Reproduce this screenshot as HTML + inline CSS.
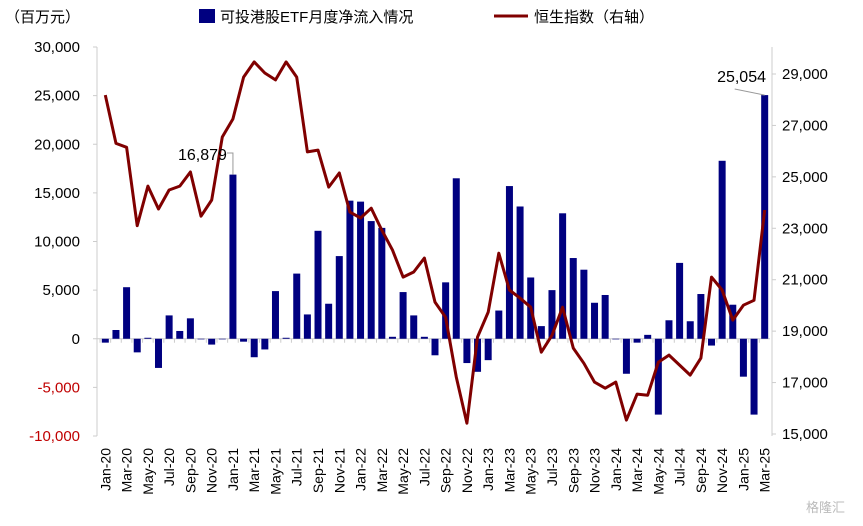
<!DOCTYPE html>
<html><head><meta charset="utf-8"><style>
body{margin:0;background:#fff;}
svg text{font-family:"Liberation Sans","Noto Sans CJK SC",sans-serif;}
</style></head><body>
<svg id="c" width="863" height="521" xmlns="http://www.w3.org/2000/svg"></svg>
<script>
const months=["Jan-20","Feb-20","Mar-20","Apr-20","May-20","Jun-20","Jul-20","Aug-20","Sep-20","Oct-20","Nov-20","Dec-20","Jan-21","Feb-21","Mar-21","Apr-21","May-21","Jun-21","Jul-21","Aug-21","Sep-21","Oct-21","Nov-21","Dec-21","Jan-22","Feb-22","Mar-22","Apr-22","May-22","Jun-22","Jul-22","Aug-22","Sep-22","Oct-22","Nov-22","Dec-22","Jan-23","Feb-23","Mar-23","Apr-23","May-23","Jun-23","Jul-23","Aug-23","Sep-23","Oct-23","Nov-23","Dec-23","Jan-24","Feb-24","Mar-24","Apr-24","May-24","Jun-24","Jul-24","Aug-24","Sep-24","Oct-24","Nov-24","Dec-24","Jan-25","Feb-25","Mar-25"];
const flows=[-400,900,5300,-1400,100,-3000,2400,800,2100,0,-600,0,16879,-300,-1900,-1100,4900,100,6700,2500,11100,3600,8500,14200,14100,12100,11400,200,4800,2400,200,-1700,5800,16500,-2500,-3400,-2200,2900,15700,13600,6300,1300,5000,12900,8300,7100,3700,4500,0,-3600,-400,400,-7800,1900,7800,1800,4600,-700,18300,3500,-3900,-7800,25054];
const hsi=[28180,26300,26150,23100,24640,23750,24490,24640,25190,23470,24100,26550,27250,28880,29470,29040,28770,29470,28880,25970,26040,24600,25150,23630,23400,23780,22930,22150,21100,21300,21840,20130,19540,17210,15420,18770,19740,22030,20600,20280,19930,18180,18840,19930,18340,17750,17020,16780,17020,15540,16550,16510,17790,18070,17680,17290,17950,21100,20600,19430,20010,20200,23710];
const leftTicks=[-10000,-5000,0,5000,10000,15000,20000,25000,30000];
const rightTicks=[15000,17000,19000,21000,23000,25000,27000,29000];
const X0=100,X1=770,YT=47,YB=436;
const band=(X1-X0)/months.length;
const xc=i=>X0+band*(i+0.5);
const yL=v=>YB-(v+10000)/40000*(YB-YT);
const yR=v=>434-(v-15000)/14000*(434-74);
const svg=document.getElementById('c');
const NS="http://www.w3.org/2000/svg";
function mk(t,a,txt){const e=document.createElementNS(NS,t);for(const k in a)e.setAttribute(k,a[k]);if(txt!==undefined)e.textContent=txt;svg.appendChild(e);return e;}
// axes
let e=mk('line',{x1:X0-3,y1:YT,x2:X0-3,y2:YB,stroke:'#ccc'});


e=mk('line',{x1:X1+2,y1:YT,x2:X1+2,y2:YB,stroke:'#ccc'});


e=mk('line',{x1:X0-3,y1:yL(0),x2:X1,y2:yL(0),stroke:'#ccc'});


leftTicks.forEach(v=>{
 const l=mk('line',{x1:X0-7,y1:yL(v),x2:X0-3,y2:yL(v),stroke:'#ccc'});
 
 
 const t=mk('text',{x:80,y:yL(v)+5,'text-anchor':'end','font-size':15,fill:v<0?'#c00000':'#000'},v.toLocaleString('en-US'));
 
 
});
rightTicks.forEach(v=>{
 const l=mk('line',{x1:X1+2,y1:yR(v),x2:X1+6,y2:yR(v),stroke:'#ccc'});
 
 
 const t=mk('text',{x:782,y:yR(v)+5,'font-size':15,fill:'#000'},v.toLocaleString('en-US'));
 
 
});
months.forEach((m,i)=>{
 const l=mk('line',{x1:X0+band*i,y1:yL(0),x2:X0+band*i,y2:yL(0)+4,stroke:'#ccc'});
 
 
 if(i%2===0){
  const x=xc(i)+5,y=448;
  const t=mk('text',{x:x,y:y,'text-anchor':'end','font-size':14,transform:`rotate(-90 ${x} ${y})`},m);
  
  
 }
});
flows.forEach((v,i)=>{
 const y0=yL(0),y1=yL(v);
 const r=mk('rect',{x:xc(i)-3.5,y:Math.min(y0,y1),width:7,height:Math.max(Math.abs(y1-y0),0.6),fill:'#000080'});
 
 
});
const pts=hsi.map((v,i)=>xc(i).toFixed(1)+','+yR(v).toFixed(1)).join(' ');
e=mk('polyline',{points:pts,fill:'none',stroke:'#800000','stroke-width':3,'stroke-linejoin':'round'});


// data labels
const i1=12,i2=62;
e=mk('polyline',{points:`${xc(i1)-6},153 ${xc(i1)},153 ${xc(i1)},${yL(flows[i1])}`,fill:'none',stroke:'#999'});


e=mk('text',{x:xc(i1)-6,y:160,'text-anchor':'end','font-size':16},flows[i1].toLocaleString('en-US'));


e=mk('polyline',{points:`${xc(i2)-30},89 ${xc(i2)},${yL(flows[i2])}`,fill:'none',stroke:'#999'});


e=mk('text',{x:766,y:82,'text-anchor':'end','font-size':16},flows[i2].toLocaleString('en-US'));


// unit & legend
e=mk('text',{x:5,y:22,'font-size':15},'（百万元）');


e=mk('rect',{x:199,y:9,width:16,height:14,fill:'#000080'});


e=mk('text',{x:220,y:22,'font-size':15},'可投港股ETF月度净流入情况');


e=mk('line',{x1:494,y1:16,x2:528,y2:16,stroke:'#800000','stroke-width':3});


e=mk('text',{x:534,y:22,'font-size':15},'恒生指数（右轴）');


e=mk('text',{x:806,y:512,'font-size':13,fill:'#bbb'},'格隆汇');


</script>
</body></html>
